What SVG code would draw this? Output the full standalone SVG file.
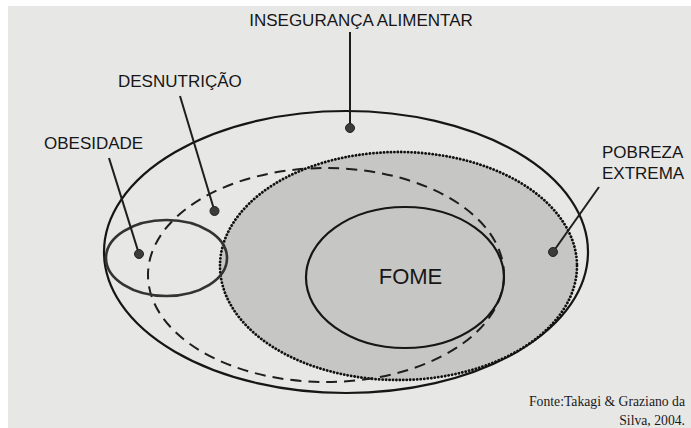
<svg xmlns="http://www.w3.org/2000/svg" width="691" height="428" viewBox="0 0 691 428">
  <style>
    .lbl { font-family: "Liberation Sans", Arial, sans-serif; font-size: 17px; fill: #161616; }
    .big { font-size: 22px; }
    .src { font-family: "Liberation Serif", "Times New Roman", serif; font-size: 13.7px; fill: #1a1a1a; }
    .ring { fill: none; stroke: #161616; stroke-width: 2.2; }
    .lead { stroke: #1e1e1e; stroke-width: 2; fill: none; }
    .dot { fill: #3c3c3c; stroke: #222; stroke-width: 1; }
  </style>
  <rect x="0" y="0" width="691" height="428" fill="#ffffff"/>
  <rect x="8" y="6" width="683" height="422" fill="#e7e7e6"/>

  <g id="inseguranca">
    <ellipse class="ring" cx="346" cy="252" rx="242" ry="141"/>
  </g>
  <g id="pobreza">
    <ellipse cx="398.5" cy="266" rx="178.5" ry="114" fill="#c6c6c5" stroke="#111" stroke-width="2.8" stroke-dasharray="0.1 3.4" stroke-linecap="round"/>
  </g>
  <g id="desnutricao">
    <ellipse cx="326" cy="275" rx="178" ry="107" fill="none" stroke="#1e1e1e" stroke-width="2" stroke-dasharray="11 7"/>
  </g>
  <g id="fome">
    <ellipse class="ring" cx="405" cy="277.5" rx="99" ry="70.5" stroke-width="2.5"/>
    <text class="lbl big" x="410.5" y="283.5" text-anchor="middle">FOME</text>
  </g>
  <g id="obesidade">
    <ellipse cx="166.5" cy="258" rx="60.5" ry="38" fill="none" stroke="#333" stroke-width="2.6"/>
  </g>

  <g id="connectors">
    <line class="lead" x1="350" y1="32" x2="350" y2="128"/>
    <line class="lead" x1="180" y1="96" x2="214.5" y2="211"/>
    <line class="lead" x1="109" y1="158" x2="139" y2="254"/>
    <line class="lead" x1="599" y1="187" x2="553" y2="252"/>
    <circle class="dot" cx="350" cy="128" r="4.5"/>
    <circle class="dot" cx="214.5" cy="211" r="4.5"/>
    <circle class="dot" cx="139" cy="254" r="4.5"/>
    <circle class="dot" cx="553" cy="252" r="4.5"/>
  </g>

  <g id="labels">
    <text class="lbl" x="361" y="26" text-anchor="middle">INSEGURANÇA ALIMENTAR</text>
    <text class="lbl" x="118" y="87">DESNUTRIÇÃO</text>
    <text class="lbl" x="44" y="149">OBESIDADE</text>
    <text class="lbl" x="602" y="158">POBREZA</text>
    <text class="lbl" x="602" y="179">EXTREMA</text>
  </g>

  <g id="source">
    <text class="src" x="685" y="406" text-anchor="end">Fonte:Takagi &amp; Graziano da</text>
    <text class="src" x="685" y="425" text-anchor="end">Silva, 2004.</text>
  </g>
</svg>
